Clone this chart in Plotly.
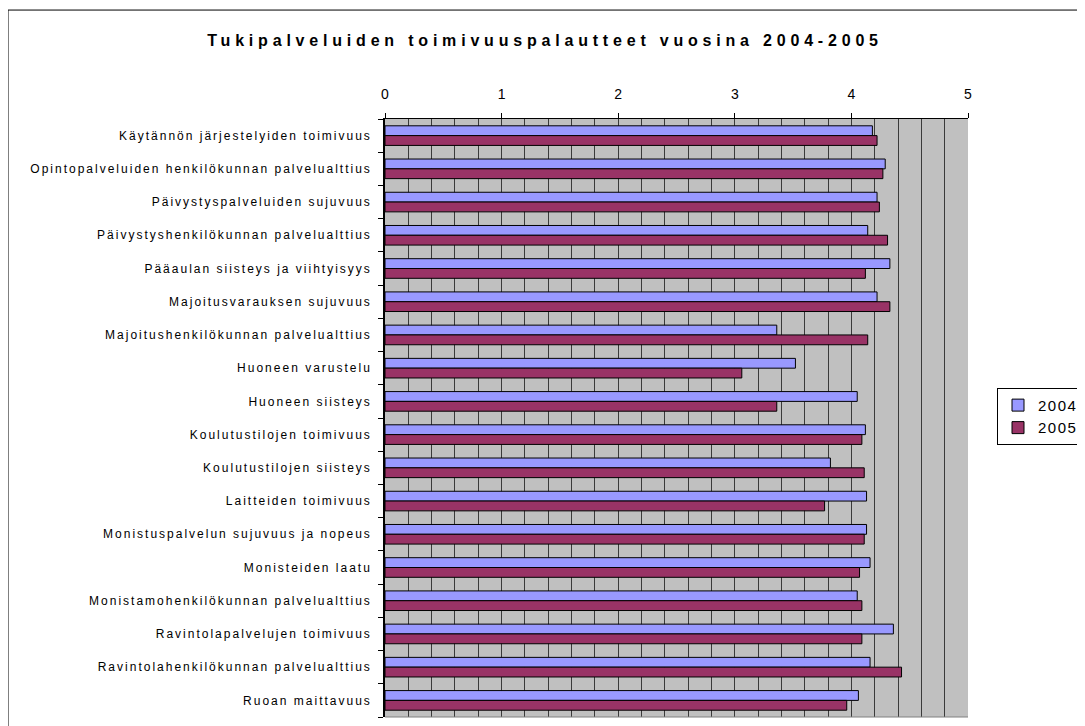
import plotly.graph_objects as go

categories = [
    "Käytännön järjestelyiden toimivuus",
    "Opintopalveluiden henkilökunnan palvelualttius",
    "Päivystyspalveluiden sujuvuus",
    "Päivystyshenkilökunnan palvelualttius",
    "Pääaulan siisteys ja viihtyisyys",
    "Majoitusvarauksen sujuvuus",
    "Majoitushenkilökunnan palvelualttius",
    "Huoneen varustelu",
    "Huoneen siisteys",
    "Koulutustilojen toimivuus",
    "Koulutustilojen siisteys",
    "Laitteiden toimivuus",
    "Monistuspalvelun sujuvuus ja nopeus",
    "Monisteiden laatu",
    "Monistamohenkilökunnan palvelualttius",
    "Ravintolapalvelujen toimivuus",
    "Ravintolahenkilökunnan palvelualttius",
    "Ruoan maittavuus",
]
values_2004 = [4.18, 4.29, 4.22, 4.14, 4.33, 4.22, 3.36, 3.52, 4.05, 4.12, 3.82, 4.13,
               4.13, 4.16, 4.05, 4.36, 4.16, 4.06]
values_2005 = [4.22, 4.27, 4.24, 4.31, 4.12, 4.33, 4.14, 3.06, 3.36, 4.09, 4.11, 3.77,
               4.11, 4.07, 4.09, 4.09, 4.43, 3.96]
series_names = ["2004", "2005"]
x_ticks = [0, 1, 2, 3, 4, 5]
title_text = "Tukipalveluiden toimivuuspalautteet vuosina 2004-2005"

FONT = "Liberation Sans, Arial, sans-serif"

# page body has an 8px margin; work in screen coordinates and convert
OFF = 8
W, H = 1085 - OFF, 726 - OFF
PL, PR, PT, PB = 385, 968, 119, 717.3   # plot area in screen pixels
L = PL - OFF
R = W - (PR - OFF)
T = PT - OFF
B = H - (PB - OFF)
pw = PR - PL
ph = PB - PT


def px_x(p):
    return (p - PL) / pw


def px_y(p):
    return (PB - p) / ph


def sp(text, s):
    return '<span style="letter-spacing:%spx">%s</span>' % (s, text)


fig = go.Figure()
fig.add_trace(go.Bar(
    y=categories, x=values_2004, name=sp(series_names[0], 1.5), orientation="h",
    marker=dict(color="#9999FF", line=dict(color="#000000", width=1)),
))
fig.add_trace(go.Bar(
    y=categories, x=values_2005, name=sp(series_names[1], 1.5), orientation="h",
    marker=dict(color="#993366", line=dict(color="#000000", width=1)),
))

ticktext = [sp(c, 2.0) for c in categories]

fig.update_layout(
    width=W, height=H,
    margin=dict(l=L, r=R, t=T, b=B, autoexpand=False),
    paper_bgcolor="#FFFFFF",
    plot_bgcolor="#C0C0C0",
    barmode="group",
    bargap=0.41,
    bargroupgap=0.0,
    font=dict(family=FONT, color="#000000"),
    title=dict(
        text=sp(title_text, 4.8),
        font=dict(family=FONT, size=16, color="#000000", weight="bold"),
        x=(545 - OFF) / W, xref="container", xanchor="center",
        y=1 - (40 - OFF) / H, yref="container", yanchor="middle",
    ),
    xaxis=dict(
        side="top", range=[0, 5], tickvals=x_ticks, ticktext=[str(t) for t in x_ticks],
        ticks="outside", ticklen=5, tickcolor="#000000", tickwidth=1,
        showline=True, linecolor="#000000", linewidth=1,
        showgrid=True, gridcolor="#3a3a3a", gridwidth=1,
        minor=dict(dtick=0.2, showgrid=True, gridcolor="#3a3a3a", gridwidth=1, ticks=""),
        zeroline=False,
        tickfont=dict(family=FONT, size=14, color="#000000"),
        ticklabelstandoff=8,
        fixedrange=True,
    ),
    yaxis=dict(
        autorange="reversed", type="category",
        tickvals=categories, ticktext=ticktext,
        tickson="boundaries", ticks="outside", ticklen=5, tickcolor="#000000", tickwidth=1,
        showline=True, linecolor="#000000", linewidth=1.5,
        showgrid=False, zeroline=False,
        tickfont=dict(family=FONT, size=12, color="#000000"),
        ticklabelstandoff=9,
        fixedrange=True,
    ),
    legend=dict(
        x=px_x(997), y=px_y(388), xanchor="left", yanchor="top",
        xref="paper", yref="paper",
        bgcolor="#FFFFFF", bordercolor="#000000", borderwidth=1,
        font=dict(family=FONT, size=15, color="#000000"),
        tracegroupgap=0, itemwidth=30,
    ),
    shapes=[
        dict(type="rect", xref="paper", yref="paper",
             x0=px_x(8), x1=px_x(1082), y0=px_y(760), y1=px_y(10),
             line=dict(color="#000000", width=1), fillcolor="rgba(0,0,0,0)", layer="below"),
        dict(type="line", xref="paper", yref="paper",
             x0=0, x1=1, y0=0, y1=0, line=dict(color="#808080", width=1)),
    ],
)

fig.write_html("out.html")
